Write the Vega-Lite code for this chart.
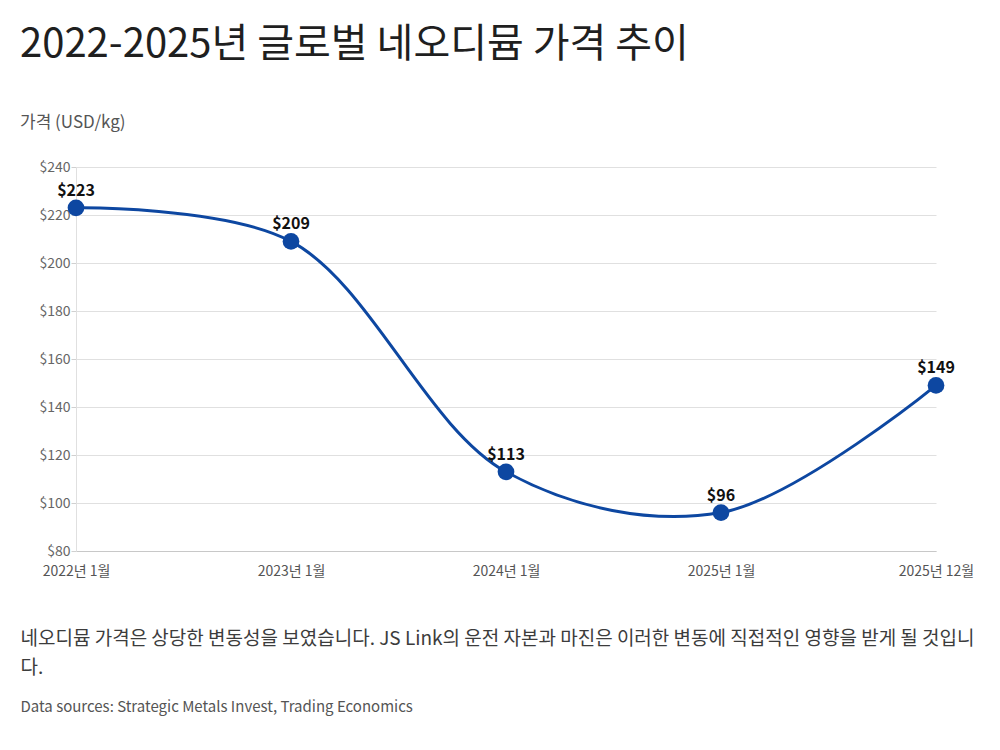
{
  "$schema": "https://vega.github.io/schema/vega-lite/v6.json",
  "width": 860,
  "height": 384,
  "autosize": {"type": "none"},
  "padding": {"left": 76, "top": 167, "right": 64, "bottom": 199},
  "background": "white",
  "config": {
    "font": "Noto Sans CJK KR",
    "view": {"stroke": null}
  },
  "title": {
    "text": "2022-2025년 글로벌 네오디뮴 가격 추이",
    "subtitle": "가격 (USD/kg)",
    "anchor": "start",
    "frame": "group",
    "dx": -56,
    "offset": 29,
    "fontSize": 40,
    "fontWeight": "normal",
    "color": "#1f1f1f",
    "subtitleFontSize": 17,
    "subtitleColor": "#555555",
    "subtitlePadding": 50
  },
  "data": {
    "values": [
      {"period": "2022년 1월", "price": 223},
      {"period": "2023년 1월", "price": 209},
      {"period": "2024년 1월", "price": 113},
      {"period": "2025년 1월", "price": 96},
      {"period": "2025년 12월", "price": 149}
    ]
  },
  "encoding": {
    "x": {
      "field": "period",
      "type": "ordinal",
      "sort": null,
      "scale": {"padding": 0},
      "axis": {
        "title": ["네오디뮴 가격은 상당한 변동성을 보였습니다. JS Link의 운전 자본과 마진은 이러한 변동에 직접적인 영향을 받게 될 것입니", "다."],
        "titleFontSize": 19,
        "titleFontWeight": "normal",
        "titleColor": "#3c3c3c",
        "titleAnchor": "start",
        "titleAlign": "left",
        "titleBaseline": "top",
        "titleX": -56,
        "titleY": 78,
        "titleLineHeight": 29,
        "labelAngle": 0,
        "labelFontSize": 14,
        "labelColor": "#555555",
        "labelPadding": 13,
        "ticks": false,
        "domainColor": "#c8c8c8",
        "grid": false
      }
    },
    "y": {
      "field": "price",
      "type": "quantitative",
      "scale": {"domain": [80, 240]},
      "axis": {
        "title": "Data sources: Strategic Metals Invest, Trading Economics",
        "titleAngle": 0,
        "titleFontSize": 15,
        "titleFontWeight": "normal",
        "titleColor": "#555555",
        "titleAnchor": "start",
        "titleAlign": "left",
        "titleBaseline": "top",
        "titleX": -56,
        "titleY": 532,
        "values": [80, 100, 120, 140, 160, 180, 200, 220, 240],
        "format": "$d",
        "labelFontSize": 14,
        "labelColor": "#666666",
        "labelPadding": 1,
        "tickSize": 5,
        "tickColor": "#d0d0d0",
        "domainColor": "#e0e0e0",
        "gridColor": "#e0e0e0"
      }
    }
  },
  "layer": [
    {
      "mark": {"type": "line", "interpolate": "catmull-rom", "color": "#0d47a1", "strokeWidth": 3}
    },
    {
      "mark": {"type": "point", "filled": true, "opacity": 1, "color": "#0d47a1", "size": 280}
    },
    {
      "mark": {"type": "text", "baseline": "bottom", "dy": -9, "fontSize": 16, "fontWeight": "bold", "color": "#111111"},
      "encoding": {"text": {"field": "price", "type": "quantitative", "format": "$d"}}
    }
  ]
}
